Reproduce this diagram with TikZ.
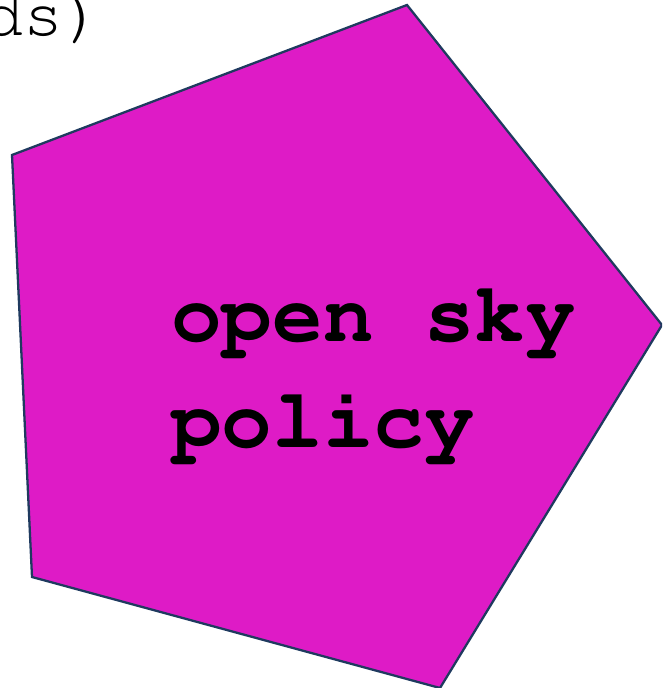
\documentclass[tikz,border=0pt]{standalone}
\usepackage[T1]{fontenc}
\usepackage{courier}
\usetikzlibrary{positioning}
\definecolor{pentafill}{HTML}{DE1BC6}
\definecolor{pentaline}{HTML}{1F3A5F}
\tikzset{
    pentagon/.style={draw=pentaline, line width=1.3pt, fill=pentafill, line join=miter},
    policytext/.style={font=\fontsize{48}{60}\selectfont\ttfamily\bfseries, align=left, inner sep=0pt},
    cuttext/.style={font=\fontsize{38}{42}\selectfont\ttfamily, inner sep=0pt},
}

\begin{document}
\begin{tikzpicture}[x=0.02cm, y=-0.02cm]

\useasboundingbox (0,0) rectangle (662,688);
\clip (0,0) rectangle (662,688);

% ============================================================
% leftover label, cut at the edge
% ============================================================
\node[cuttext, anchor=base east] (cutlabel) at (104,36) {ds)};

% ============================================================
% pentagon
% ============================================================
\draw[pentagon] (407,5) -- (662,325) -- (440,688) -- (32,577) -- (12,155) -- cycle;

\node[policytext, anchor=base west] (policy) at (171,447) {open sky\\policy};

\end{tikzpicture}
\end{document}
